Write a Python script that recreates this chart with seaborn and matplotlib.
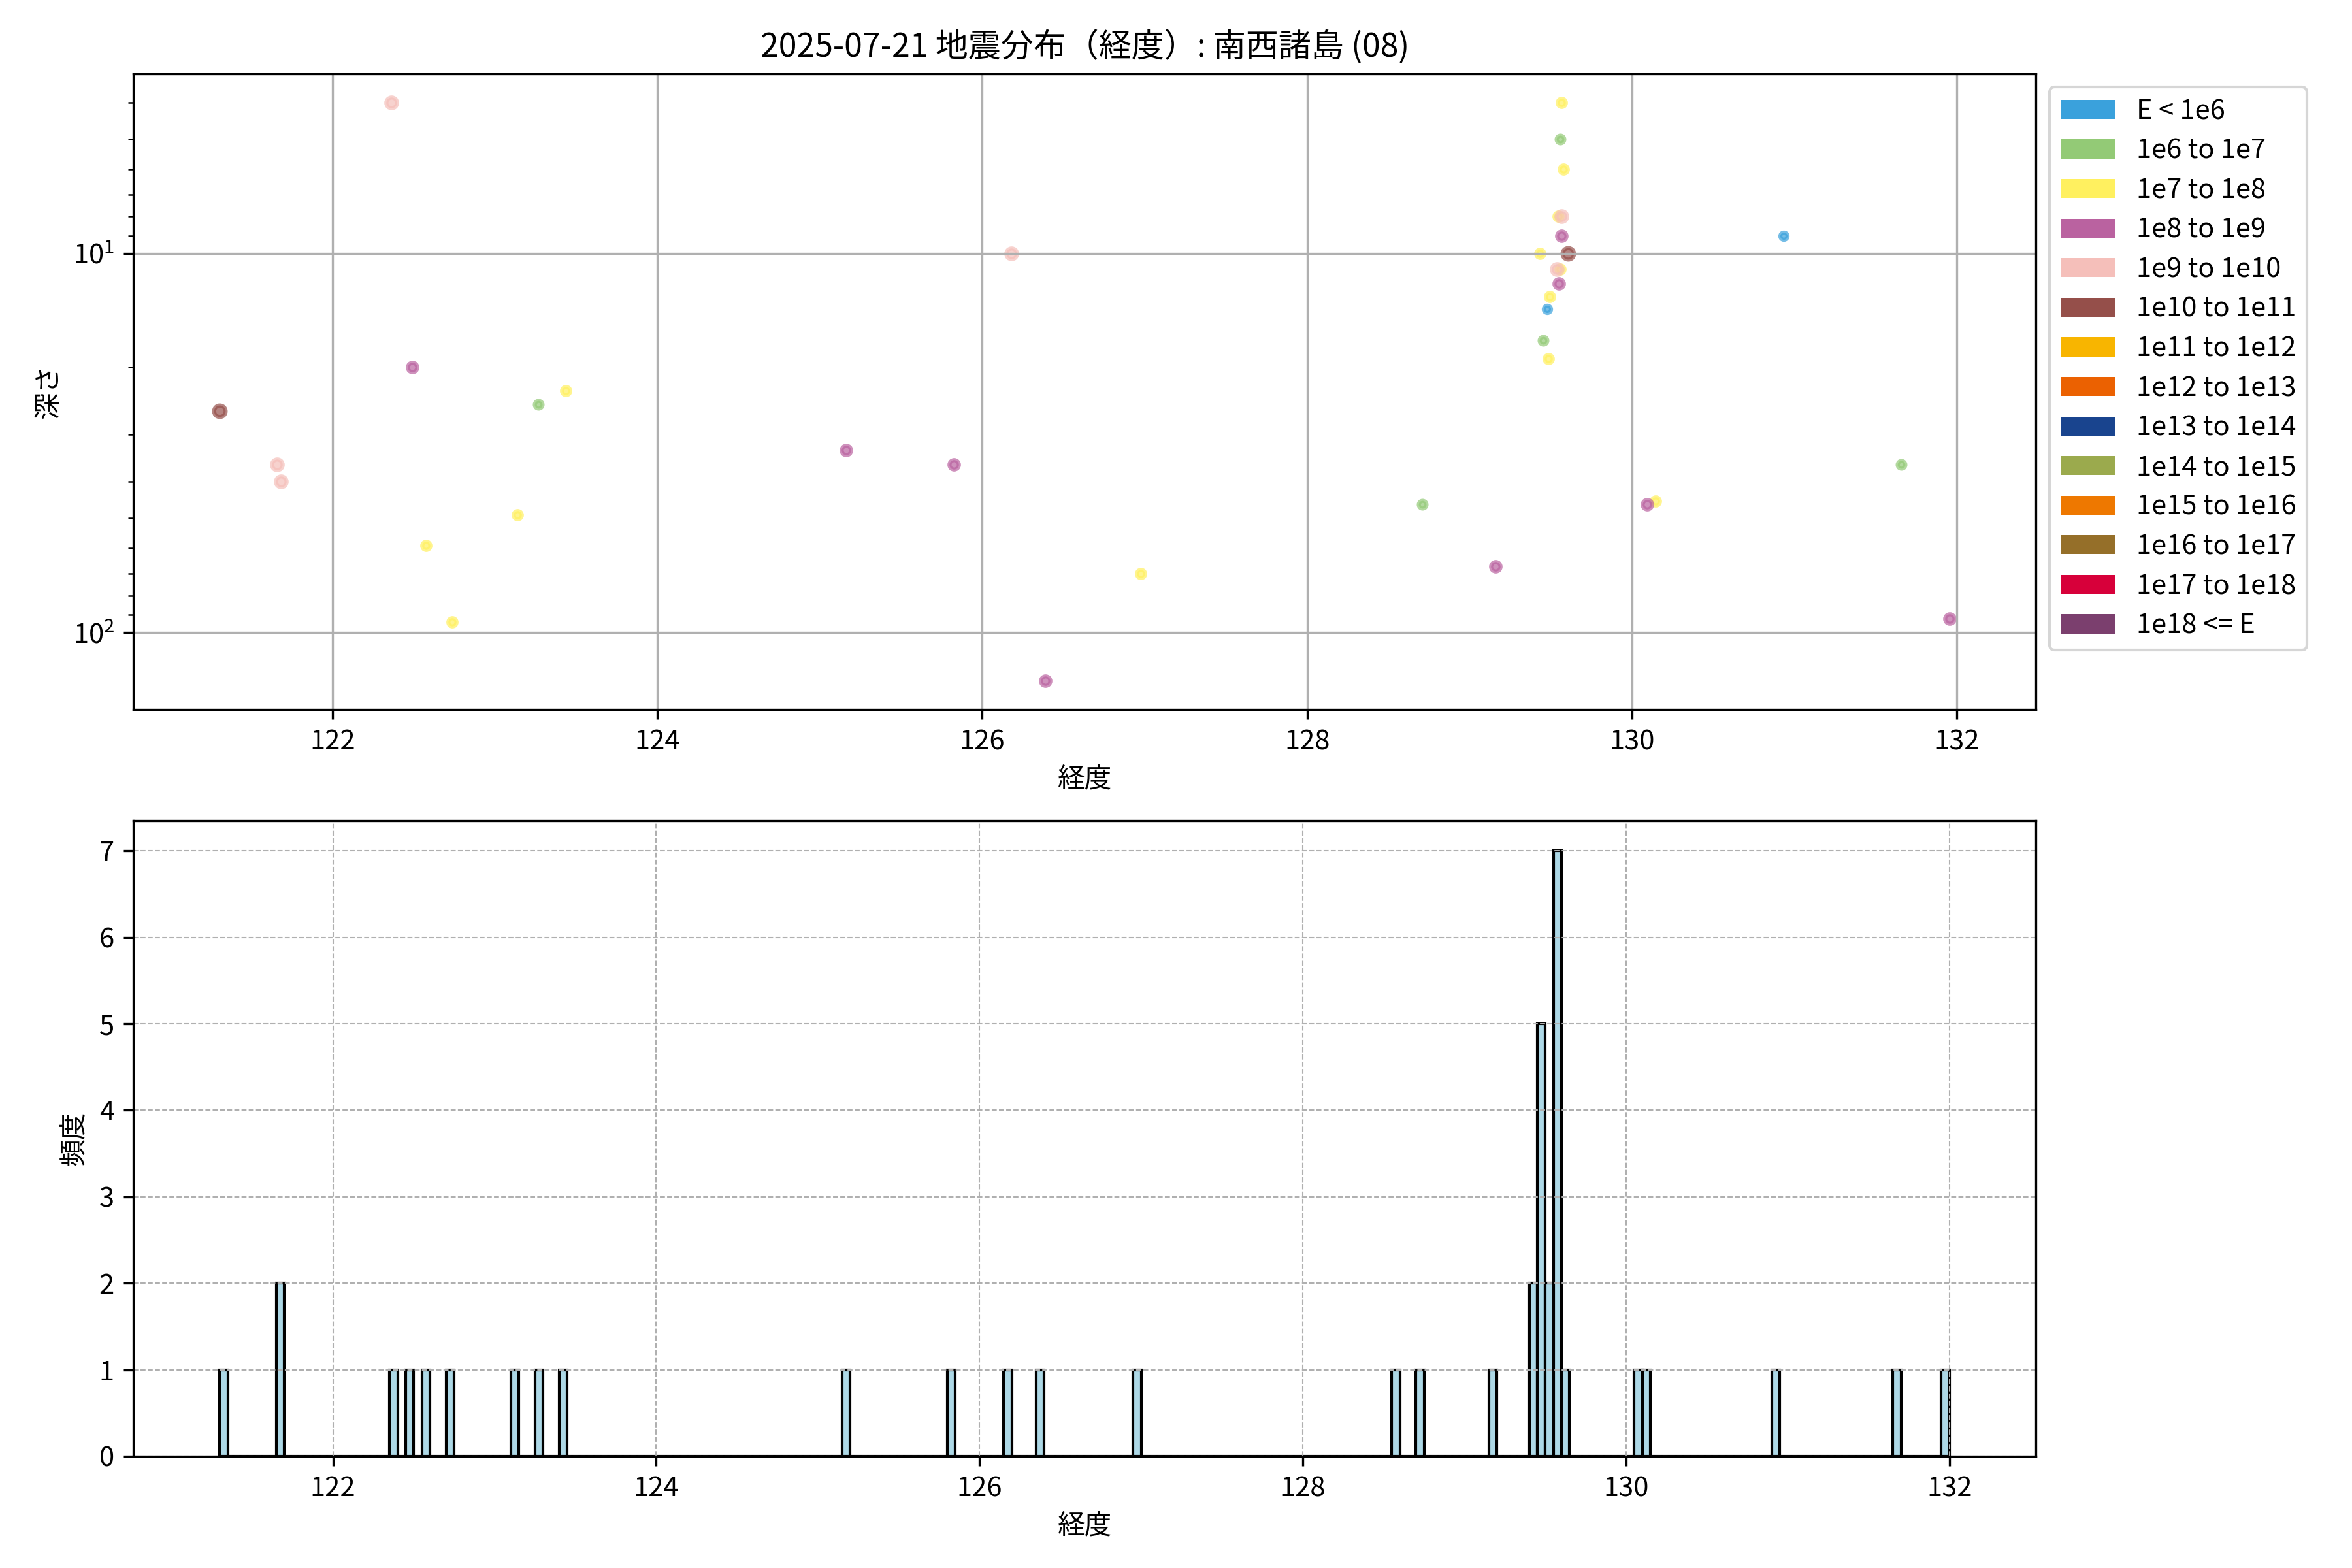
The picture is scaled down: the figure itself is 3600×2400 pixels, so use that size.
import numpy as np
import pandas as pd
import matplotlib
matplotlib.use("Agg")
import matplotlib.pyplot as plt
from matplotlib.patches import Patch
import seaborn as sns

plt.rcParams['font.family'] = ['Noto Sans CJK JP', 'DejaVu Sans']

# ---------------- data ----------------
title = "2025-07-21 地震分布（経度）: 南西諸島 (08)"

longitude = [121.306, 121.658, 121.683, 122.362, 122.490, 122.577, 122.736, 123.140,
             123.268, 123.437, 125.163, 125.826, 126.180, 126.390, 126.976, 128.570,
             128.708, 129.159, 129.420, 129.435, 129.454, 129.470, 129.479, 129.485,
             129.494, 129.537, 129.545, 129.552, 129.557, 129.559, 129.567, 129.567,
             129.568, 129.577, 129.607, 130.094, 130.145, 130.933, 131.660, 131.955]

depth = [26, 36, 40, 4, 20, 59, 94, 49,
         25, 23, 33, 36, 10, 134, 70, np.nan,
         46, 67, np.nan, 10, 17, np.nan, 14, 19,
         13, 11, 8, 12, 11, 5, 4, 9,
         8, 6, 10, 46, 45, 9, 36, 92]

# energy class index (0: E<1e6, 1: 1e6-1e7, ... )
energy_class = [5, 4, 4, 4, 3, 2, 2, 2,
                1, 2, 3, 3, 4, 3, 2, 1,
                1, 3, 2, 2, 1, 2, 0, 2,
                2, 4, 2, 3, 2, 1, 2, 3,
                4, 2, 5, 3, 2, 0, 1, 3]

class_labels = ["E < 1e6", "1e6 to 1e7", "1e7 to 1e8", "1e8 to 1e9", "1e9 to 1e10",
                "1e10 to 1e11", "1e11 to 1e12", "1e12 to 1e13", "1e13 to 1e14",
                "1e14 to 1e15", "1e15 to 1e16", "1e16 to 1e17", "1e17 to 1e18", "1e18 <= E"]
class_colors = ["#3AA1DC", "#93CA76", "#FFF05F", "#BA62A0", "#F5BFBA", "#954F4A",
                "#F8B500", "#EB6101", "#19448E", "#9BAA4D", "#EE7800", "#956F29",
                "#D7003A", "#7B3F6E"]

df = pd.DataFrame({"lon": longitude, "depth": depth, "cls": energy_class})

# ---------------- figure ----------------
fig = plt.figure(figsize=(12, 8), dpi=300)
ax1 = fig.add_axes([0.0567, 0.5475, 0.8089, 0.4056])
ax2 = fig.add_axes([0.0567, 0.0713, 0.8089, 0.4054])

marker_sizes = {0: 7, 1: 8, 2: 9, 3: 12, 4: 15.5, 5: 18}
vis = df[df["depth"].notna()]
for c in sorted(vis["cls"].unique()):
    sub = vis[vis["cls"] == c]
    sns.scatterplot(data=sub, x="lon", y="depth", color=class_colors[c],
                    s=marker_sizes.get(c, 20), alpha=0.7,
                    edgecolor=class_colors[c], linewidth=1.5,
                    ax=ax1, legend=False)

ax1.set_yscale("log")
ax1.invert_yaxis()
ax1.grid(True)
ax1.set_title(title, fontsize=12)
ax1.set_xlabel("経度")
ax1.set_ylabel("深さ")

handles = [Patch(facecolor=col, label=lab) for col, lab in zip(class_colors, class_labels)]
ax1.legend(handles=handles, loc="upper left", bbox_to_anchor=(1.0, 1.0),
           labelspacing=0.47)

# histogram
bw = 0.05
lon_arr = np.array(longitude)
edges = np.arange(np.floor(lon_arr.min() / bw) * bw,
                  np.ceil(lon_arr.max() / bw) * bw + bw / 2, bw)
sns.histplot(x=lon_arr, bins=edges, color="lightblue", edgecolor="black",
             linewidth=1.0, alpha=1.0, ax=ax2)
ax2.grid(True, linestyle="--", linewidth=0.5)
ax2.set_xlabel("経度")
ax2.set_ylabel("頻度")

fig.savefig("out.png", dpi=300)
